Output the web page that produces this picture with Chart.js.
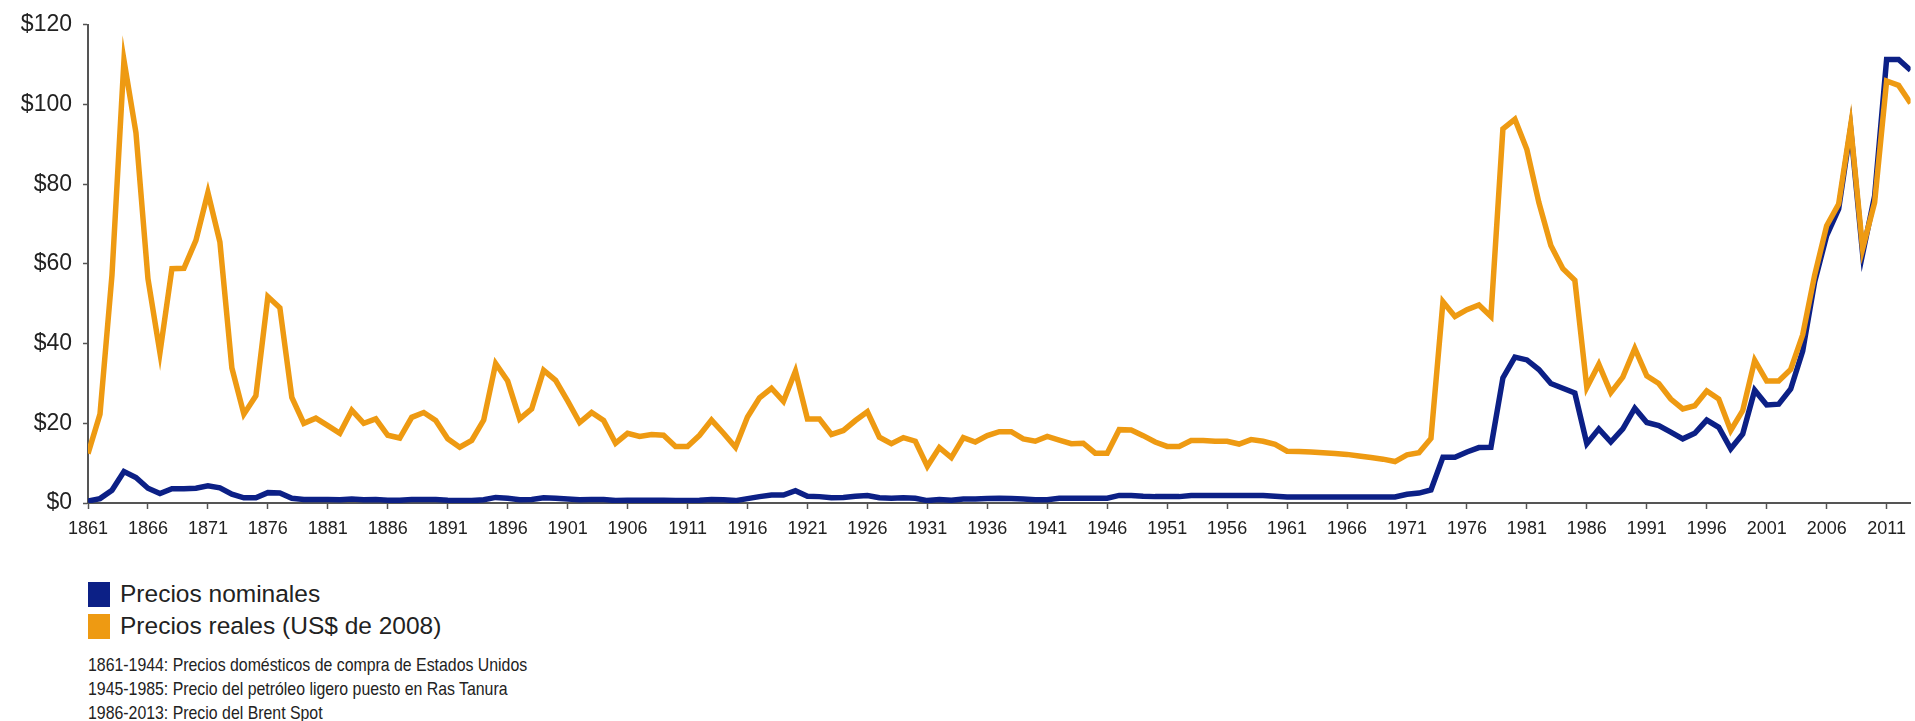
<!DOCTYPE html>
<html>
<head>
<meta charset="utf-8">
<script src="https://cdn.jsdelivr.net/npm/chart.js@4"></script>
<style>
  html, body { margin: 0; padding: 0; background: #fff; }
  body { width: 1915px; height: 721px; overflow: hidden; position: relative;
         font-family: "Liberation Sans", Arial, sans-serif; color: #222; }
  #wrap { position: absolute; left: 0; top: 0; width: 1915px; height: 560px; }
  .legend { position: absolute; left: 88px; top: 578px; }
  .legend .row { height: 32px; display: flex; align-items: center; font-size: 24.5px; }
  .legend .box { width: 22px; height: 25px; margin-right: 10px; }
  .notes { position: absolute; left: 88px; top: 653px; font-size: 19px; line-height: 24px;
           white-space: nowrap; transform: scaleX(0.835); transform-origin: left top; }
</style>
</head>
<body>
<div id="wrap"><canvas id="oil" width="1915" height="560"></canvas></div>
<div class="legend">
  <div class="row"><span class="box" style="background:#0C2086"></span>Precios nominales</div>
  <div class="row"><span class="box" style="background:#EE9A12"></span>Precios reales (US$ de 2008)</div>
</div>
<div class="notes">
  1861-1944: Precios domésticos de compra de Estados Unidos<br>
  1945-1985: Precio del petróleo ligero puesto en Ras Tanura<br>
  1986-2013: Precio del Brent Spot
</div>
<script>
// years on the x axis
const years = [
  1861, 1862, 1863, 1864, 1865, 1866, 1867, 1868, 1869, 1870,
  1871, 1872, 1873, 1874, 1875, 1876, 1877, 1878, 1879, 1880,
  1881, 1882, 1883, 1884, 1885, 1886, 1887, 1888, 1889, 1890,
  1891, 1892, 1893, 1894, 1895, 1896, 1897, 1898, 1899, 1900,
  1901, 1902, 1903, 1904, 1905, 1906, 1907, 1908, 1909, 1910,
  1911, 1912, 1913, 1914, 1915, 1916, 1917, 1918, 1919, 1920,
  1921, 1922, 1923, 1924, 1925, 1926, 1927, 1928, 1929, 1930,
  1931, 1932, 1933, 1934, 1935, 1936, 1937, 1938, 1939, 1940,
  1941, 1942, 1943, 1944, 1945, 1946, 1947, 1948, 1949, 1950,
  1951, 1952, 1953, 1954, 1955, 1956, 1957, 1958, 1959, 1960,
  1961, 1962, 1963, 1964, 1965, 1966, 1967, 1968, 1969, 1970,
  1971, 1972, 1973, 1974, 1975, 1976, 1977, 1978, 1979, 1980,
  1981, 1982, 1983, 1984, 1985, 1986, 1987, 1988, 1989, 1990,
  1991, 1992, 1993, 1994, 1995, 1996, 1997, 1998, 1999, 2000,
  2001, 2002, 2003, 2004, 2005, 2006, 2007, 2008, 2009, 2010,
  2011, 2012, 2013
];

// Precios nominales (US$ por barril)
const nominal = [
  0.5, 1.1, 3.2, 7.9, 6.4, 3.7, 2.4, 3.6, 3.6, 3.7,
  4.3, 3.8, 2.2, 1.3, 1.3, 2.6, 2.5, 1.2, 0.9, 0.9,
  0.9, 0.8, 1.0, 0.8, 0.9, 0.7, 0.7, 0.9, 0.9, 0.9,
  0.7, 0.6, 0.6, 0.8, 1.4, 1.2, 0.8, 0.9, 1.3, 1.2,
  1.0, 0.8, 0.9, 0.9, 0.6, 0.7, 0.7, 0.7, 0.7, 0.6,
  0.6, 0.7, 0.9, 0.8, 0.6, 1.1, 1.6, 2.0, 2.0, 3.1,
  1.7, 1.6, 1.3, 1.4, 1.7, 1.9, 1.3, 1.2, 1.3, 1.2,
  0.6, 0.9, 0.7, 1.0, 1.0, 1.1, 1.2, 1.1, 1.0, 0.8,
  0.8, 1.2, 1.2, 1.2, 1.2, 1.2, 1.9, 1.9, 1.7, 1.6,
  1.6, 1.6, 1.9, 1.9, 1.9, 1.9, 1.9, 1.9, 1.9, 1.7,
  1.5, 1.5, 1.5, 1.5, 1.5, 1.5, 1.5, 1.5, 1.5, 1.5,
  2.2, 2.5, 3.3, 11.5, 11.5, 12.8, 13.9, 14.0, 31.4, 36.6,
  35.9, 33.5, 30.0, 28.8, 27.6, 14.9, 18.6, 15.3, 18.6, 23.8,
  20.2, 19.4, 17.8, 16.1, 17.5, 20.8, 19.0, 13.6, 17.3, 28.3,
  24.6, 24.8, 28.6, 38.1, 55.5, 67.1, 73.8, 94.0, 62.5, 77.0,
  111.3, 111.3, 108.6
];

// Precios reales (US$ de 2008)
const real = [
  12.4, 22.3, 57.2, 111.1, 92.9, 56.3, 37.7, 58.8, 58.9, 65.9,
  77.9, 65.5, 33.9, 22.3, 26.9, 51.8, 49.0, 26.5, 20.0, 21.3,
  19.4, 17.5, 23.3, 20.0, 21.1, 17.0, 16.3, 21.5, 22.7, 20.7,
  16.1, 14.0, 15.7, 20.8, 35.0, 30.6, 21.1, 23.6, 33.3, 30.8,
  25.6, 20.2, 22.7, 20.7, 15.0, 17.5, 16.7, 17.2, 17.0, 14.2,
  14.2, 17.0, 20.8, 17.5, 14.0, 21.6, 26.4, 28.8, 25.5, 33.1,
  21.1, 21.1, 17.2, 18.2, 20.7, 22.9, 16.5, 14.9, 16.4, 15.5,
  9.2, 13.9, 11.4, 16.4, 15.3, 16.9, 17.9, 17.9, 16.1, 15.5,
  16.7, 15.8, 14.9, 15.0, 12.5, 12.5, 18.4, 18.3, 16.9, 15.3,
  14.2, 14.2, 15.7, 15.7, 15.5, 15.5, 14.8, 15.9, 15.5, 14.7,
  13.0, 12.9, 12.8, 12.6, 12.4, 12.2, 11.8, 11.4, 11.0, 10.4,
  12.1, 12.6, 16.2, 50.5, 46.8, 48.5, 49.7, 46.8, 93.9, 96.3,
  88.7, 75.4, 64.6, 58.8, 55.9, 29.0, 34.8, 27.7, 31.6, 38.8,
  31.9, 30.0, 26.1, 23.6, 24.4, 28.1, 26.1, 18.2, 23.2, 35.8,
  30.6, 30.6, 33.5, 42.2, 57.2, 69.6, 75.0, 94.7, 63.8, 75.4,
  105.9, 104.8, 100.3
];

// tick labels
const xTicks = [1861, 1866, 1871, 1876, 1881, 1886, 1891, 1896, 1901, 1906, 1911, 1916,
  1921, 1926, 1931, 1936, 1941, 1946, 1951, 1956, 1961, 1966, 1971, 1976, 1981, 1986,
  1991, 1996, 2001, 2006, 2011];
const yTicks = [0, 20, 40, 60, 80, 100, 120];

const axisColor = '#555555';
const textColor = '#222222';

new Chart(document.getElementById('oil'), {
  type: 'line',
  data: {
    datasets: [
      {
        label: 'Precios nominales',
        data: years.map((y, i) => ({ x: y, y: nominal[i] })),
        borderColor: '#0C2086',
        backgroundColor: '#0C2086',
        borderWidth: 5.5,
        pointRadius: 0,
        tension: 0,
        order: 1
      },
      {
        label: 'Precios reales (US$ de 2008)',
        data: years.map((y, i) => ({ x: y, y: real[i] })),
        borderColor: '#EE9A12',
        backgroundColor: '#EE9A12',
        borderWidth: 5.5,
        pointRadius: 0,
        tension: 0,
        order: 0
      }
    ]
  },
  options: {
    responsive: false,
    animation: false,
    devicePixelRatio: 1,
    layout: { padding: { top: 21, right: 3, left: 0, bottom: 0 } },
    plugins: { legend: { display: false }, tooltip: { enabled: false } },
    scales: {
      x: {
        type: 'linear',
        min: 1861,
        max: 2013,
        afterBuildTicks: s => { s.ticks = xTicks.map(v => ({ value: v })); },
        afterFit: s => { s.height = 57; },
        grid: { display: true, drawOnChartArea: false, drawTicks: true, tickLength: 6, color: axisColor, tickWidth: 1.5 },
        border: { display: true, color: axisColor, width: 2 },
        ticks: {
          autoSkip: false, maxRotation: 0, padding: 9, color: textColor,
          font: { family: '"Liberation Sans", Arial, sans-serif', size: 18 },
          callback: v => String(v)
        }
      },
      y: {
        min: 0,
        max: 120,
        afterBuildTicks: s => { s.ticks = yTicks.map(v => ({ value: v })); },
        afterFit: s => { s.width = 88; },
        grid: { display: true, drawOnChartArea: false, drawTicks: true, tickLength: 5, color: axisColor, tickWidth: 1.5 },
        border: { display: true, color: axisColor, width: 2 },
        ticks: {
          padding: 11, color: textColor,
          font: { family: '"Liberation Sans", Arial, sans-serif', size: 23 },
          callback: v => '$' + v
        }
      }
    }
  }
});
</script>
</body>
</html>
